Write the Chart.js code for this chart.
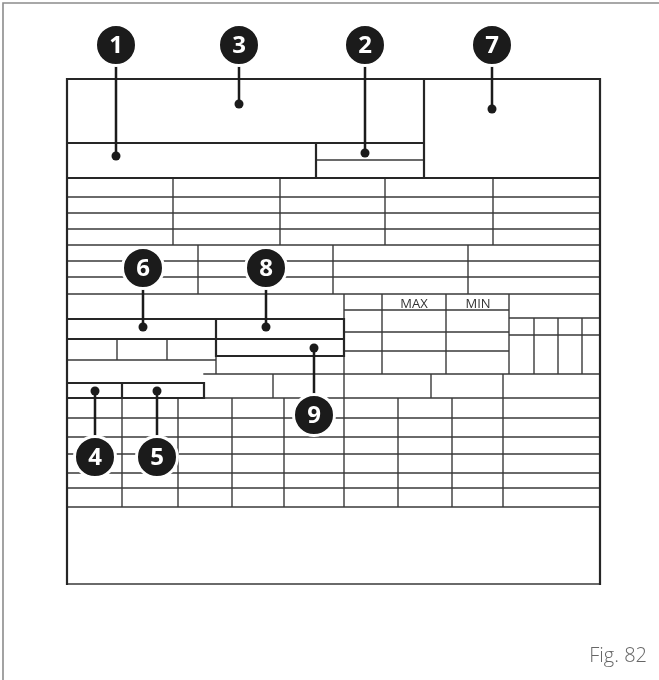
<!DOCTYPE html>
<html>
<head>
<meta charset="utf-8">
<script src="https://cdn.jsdelivr.net/npm/chart.js@4.4.1/dist/chart.umd.min.js"></script>
<style>
  html, body { margin: 0; padding: 0; background: #fff; }
  #wrap { width: 659px; height: 680px; }
</style>
</head>
<body>
<div id="wrap"><canvas id="plate" width="659" height="680"></canvas></div>
<script>
// page frame (x1, y1, x2, y2)
const frameSegs = [[3, 3, 659, 3], [3, 3, 3, 680]];

// heavy rules: [y, x1, x2] and [x, y1, y2]
const thickH = [[79, 67, 600], [143, 67, 424], [178, 67, 600]];
const thickV = [[67, 79, 584], [600, 79, 584], [424, 79, 178], [316, 143, 178]];

// outlined fields: [x1, y1, x2, y2]
const boxes = [
  [67, 319, 216, 339], [216, 319, 344, 339], [216, 339, 344, 356],
  [67, 383, 122, 398], [122, 383, 204, 398]
];

// thin grid rules
const thinH = [
  [160, 316, 424], [197, 67, 600], [213, 67, 600], [229, 67, 600], [245, 67, 600],
  [261, 67, 600], [277, 67, 600], [294, 67, 600],
  [310, 344, 509], [332, 344, 509], [351, 344, 509], [318, 509, 600], [335, 509, 600],
  [360, 67, 216], [374, 204, 600], [398, 67, 600],
  [418, 67, 600], [437, 67, 600], [454, 67, 600], [473, 67, 600], [488, 67, 600],
  [507, 67, 600], [584, 67, 600]
];
const thinV = [
  [173, 178, 245], [280, 178, 245], [385, 178, 245], [493, 178, 245],
  [198, 245, 294], [333, 245, 294], [468, 245, 294],
  [117, 339, 360], [167, 339, 360], [216, 356, 374],
  [344, 294, 507], [382, 294, 374], [446, 294, 374], [509, 294, 374],
  [534, 318, 374], [558, 318, 374], [582, 318, 374],
  [273, 374, 398], [431, 374, 398], [503, 374, 507],
  [122, 398, 507], [178, 398, 507], [232, 398, 507], [284, 398, 507],
  [398, 398, 507], [452, 398, 507]
];

// callouts: number, circle x/y, dot x/y
const callouts = [
  ['1', 116, 45, 116, 156], ['3', 239, 45, 239, 104], ['2', 365, 45, 365, 153],
  ['7', 492, 45, 492, 109], ['6', 143, 268, 143, 327], ['8', 266, 268, 266, 327],
  ['9', 314, 415, 314, 348], ['4', 95, 457, 95, 391], ['5', 157, 457, 157, 391]
];

// column headers: text, x, y
const headers = [['MAX', 414, 303], ['MIN', 478, 303]];
const figLabel = ['Fig. 82', 647, 656];

function toPoints(segs) {
  const out = [];
  segs.forEach(s => {
    out.push({ x: s[0], y: s[1] }, { x: s[2], y: s[3] }, { x: null, y: null });
  });
  return out;
}

const thickSegs = thickH.map(h => [h[1], h[0], h[2], h[0]])
  .concat(thickV.map(v => [v[0], v[1], v[0], v[2]]));
boxes.forEach(b => {
  thickSegs.push([b[0], b[1], b[2], b[1]], [b[2], b[1], b[2], b[3]],
                 [b[2], b[3], b[0], b[3]], [b[0], b[3], b[0], b[1]]);
});
const thinSegs = thinH.map(h => [h[1], h[0], h[2], h[0]])
  .concat(thinV.map(v => [v[0], v[1], v[0], v[2]]));
const leaderSegs = callouts.map(c => [c[1], c[2], c[3], c[4]]);

const lineDs = (data, width, color, order) => ({
  type: 'scatter', data: toPoints(data), showLine: true, spanGaps: false,
  borderColor: color, borderWidth: width, pointRadius: 0, order: order,
  borderCapStyle: 'square', clip: false
});

/** Texto: números, cabeceras y figura */
const textPlugin = {
  id: 'plateText',
  afterDatasetsDraw(chart) {
    const { ctx, scales: { x, y } } = chart;
    ctx.save();
    ctx.textAlign = 'center';
    ctx.textBaseline = 'middle';
    ctx.fillStyle = '#fff';
    ctx.font = 'bold 24px "Open Sans", "DejaVu Sans", sans-serif';
    callouts.forEach(c => ctx.fillText(c[0], x.getPixelForValue(c[1]), y.getPixelForValue(c[2]) + 1));
    ctx.fillStyle = '#333';
    ctx.font = '13px "Open Sans", sans-serif';
    headers.forEach(h => ctx.fillText(h[0], x.getPixelForValue(h[1]), y.getPixelForValue(h[2]) + 1));
    ctx.textAlign = 'right';
    ctx.fillStyle = '#666';
    ctx.font = '300 20px "Open Sans", sans-serif';
    ctx.fillText(figLabel[0], x.getPixelForValue(figLabel[1]), y.getPixelForValue(figLabel[2]));
    ctx.restore();
  }
};

new Chart(document.getElementById('plate'), {
  type: 'scatter',
  data: {
    datasets: [
      {
        data: callouts.map(c => ({ x: c[1], y: c[2] })),
        pointRadius: 20.5, pointBackgroundColor: '#1b1b1b',
        pointBorderColor: '#fff', pointBorderWidth: 3, order: 0, clip: false
      },
      {
        data: callouts.map(c => ({ x: c[3], y: c[4] })),
        pointRadius: 4.5, pointBackgroundColor: '#1b1b1b',
        pointBorderWidth: 0, order: 1, clip: false
      },
      lineDs(leaderSegs, 2.5, '#1b1b1b', 2),
      lineDs(thickSegs, 2.2, '#262626', 3),
      lineDs(thinSegs, 1.4, '#3a3a3a', 4),
      lineDs(frameSegs, 1.6, '#8c8c8c', 5)
    ]
  },
  options: {
    responsive: false,
    animation: false,
    events: [],
    layout: { padding: 0, autoPadding: false },
    plugins: { legend: { display: false }, tooltip: { enabled: false } },
    scales: {
      x: { type: 'linear', min: 0, max: 659, display: false },
      y: { type: 'linear', min: 0, max: 680, reverse: true, display: false }
    }
  },
  plugins: [textPlugin]
});
</script>
</body>
</html>
